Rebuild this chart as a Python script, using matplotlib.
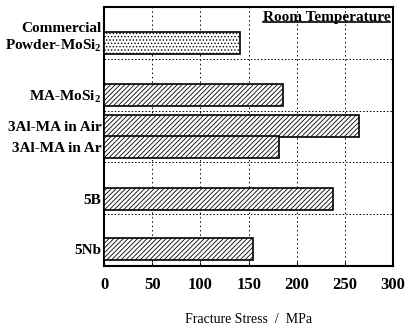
import matplotlib
matplotlib.use("Agg")
import matplotlib.pyplot as plt
import matplotlib.transforms as mtransforms
from matplotlib.lines import Line2D

# data
labels = ["Commercial\nPowder-MoSi$_2$", "MA-MoSi$_2$", "3Al-MA in Air",
          "3Al-MA in Ar", "5B", "5Nb"]
stress = [141, 186, 265, 181, 238, 154]
positions = [0.70, 1.70, 2.30, 2.70, 3.70, 4.67]
hatches = [".....", "///////", "///////", "///////", "///////", "///////"]
group_edges = [1, 2, 3, 4]
xticks = [0, 50, 100, 150, 200, 250, 300]

plt.rcParams["font.family"] = ["Liberation Serif", "DejaVu Serif"]
plt.rcParams["font.weight"] = "bold"
plt.rcParams["mathtext.fontset"] = "custom"
plt.rcParams["mathtext.rm"] = "Liberation Serif:bold"
plt.rcParams["mathtext.it"] = "Liberation Serif:bold"
plt.rcParams["hatch.linewidth"] = 0.6

fig = plt.figure(figsize=(4.10, 3.26), dpi=100)
ax = fig.add_axes([0.254, 0.184, 0.705, 0.795])

ax.barh(positions, stress, height=0.42, color="white", edgecolor="black",
        linewidth=1.2, hatch=hatches, zorder=3)

# dotted grid
for x in xticks[1:-1]:
    ax.axvline(x, color="black", linestyle=(0, (1.5, 3)), linewidth=0.7, zorder=1)
for y in group_edges:
    ax.axhline(y, color="black", linestyle=(0, (1.5, 2)), linewidth=0.7, zorder=1)

ax.set_xlim(0, 300)
ax.set_ylim(5, 0)
ax.set_xticks(xticks)
ax.set_yticks(positions)
ax.set_yticklabels(labels, fontsize=11)
ax.tick_params(axis="y", length=0, pad=2)
ax.tick_params(axis="x", length=3, direction="in", labelsize=12, pad=8)
for sp in ax.spines.values():
    sp.set_linewidth(1.5)

# the two-line label sits a bit higher than its bar
first = ax.get_yticklabels()[0]
first.set_transform(first.get_transform() +
                    mtransforms.ScaledTranslation(0, 6 / 72, fig.dpi_scale_trans))

ax.set_xlabel("Fracture Stress  /  MPa", fontsize=10, fontweight="normal", labelpad=14)

t = ax.text(0.99, 0.985, "Room Temperature", transform=ax.transAxes,
            ha="right", va="top", fontsize=11, zorder=5)
fig.canvas.draw()
bb = t.get_window_extent()
bb = bb.transformed(fig.transFigure.inverted())
fig.add_artist(Line2D([bb.x0, bb.x1], [bb.y0 + 0.004, bb.y0 + 0.004],
                      transform=fig.transFigure, color="black", linewidth=1.2))

fig.savefig("out.png", dpi=100)
